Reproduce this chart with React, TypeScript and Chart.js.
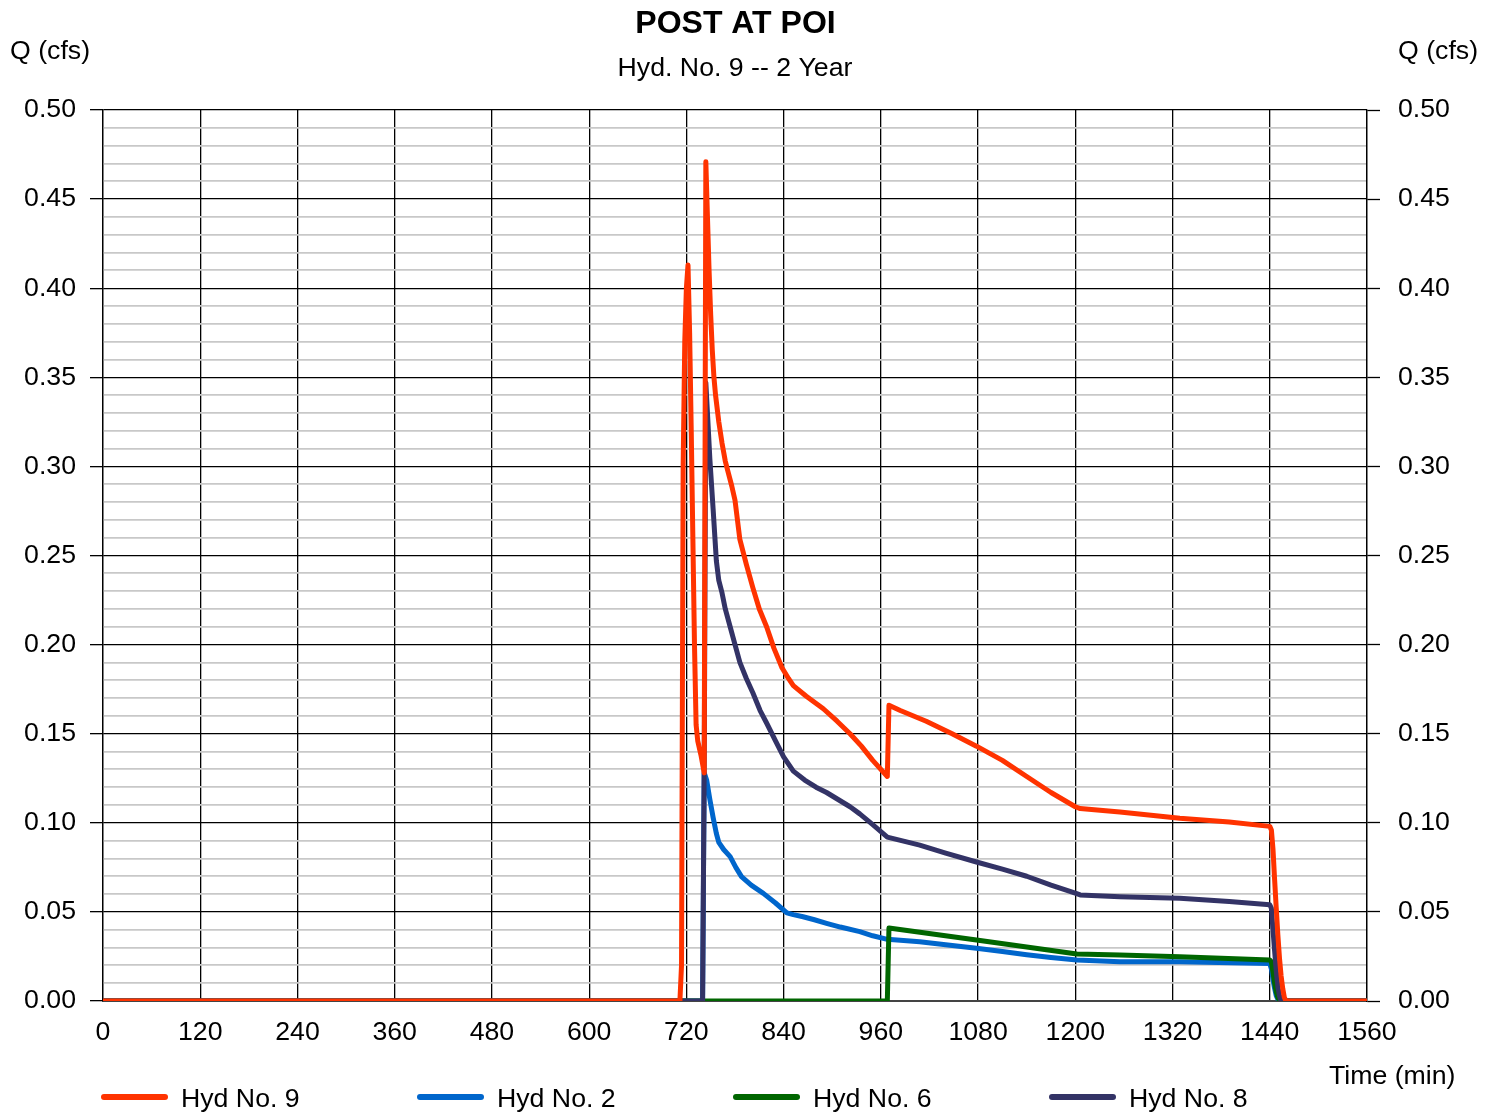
import React, { useEffect, useRef } from 'react';
import { Chart, registerables } from 'chart.js';

Chart.register(...registerables);

// ---- Data (time in minutes, flow in cfs) ----
const seriesLabels = ['Hyd No. 9', 'Hyd No. 2', 'Hyd No. 6', 'Hyd No. 8'];

const hyd9Times = [0, 712, 714, 716, 718, 720, 722, 724, 726, 728, 730, 732, 734, 738, 742, 744, 746, 748, 750, 752, 754, 756, 760, 764, 768, 772, 776, 780, 786, 794, 802, 810, 819, 828, 838, 846, 852, 868, 889, 906, 922, 936, 950, 968, 970, 984, 1016, 1048, 1078, 1110, 1140, 1170, 1200, 1206, 1255, 1329, 1390, 1440, 1442, 1444, 1446, 1448, 1450, 1452, 1454, 1456, 1458, 1460, 1560];
const hyd9Flow = [0, 0, 0.02, 0.3, 0.37, 0.4, 0.413, 0.375, 0.32, 0.26, 0.2, 0.155, 0.146, 0.138, 0.128, 0.471, 0.44, 0.41, 0.385, 0.365, 0.35, 0.34, 0.325, 0.313, 0.303, 0.296, 0.289, 0.281, 0.259, 0.245, 0.232, 0.22, 0.21, 0.198, 0.187, 0.181, 0.177, 0.171, 0.164, 0.157, 0.15, 0.143, 0.135, 0.126, 0.166, 0.163, 0.157, 0.15, 0.143, 0.135, 0.126, 0.117, 0.109, 0.108, 0.106, 0.1025, 0.1005, 0.098, 0.096, 0.085, 0.068, 0.052, 0.037, 0.024, 0.014, 0.007, 0.002, 0, 0];

const hyd2Times = [0, 740, 742, 745, 749, 753, 757, 760, 766, 774, 781, 788, 800, 815, 830, 844, 852, 864, 878, 893, 910, 934, 950, 968, 1008, 1040, 1078, 1110, 1140, 1170, 1202, 1255, 1329, 1440, 1442, 1444, 1446, 1448, 1450, 1452, 1560];
const hyd2Flow = [0, 0, 0.128, 0.124, 0.113, 0.103, 0.094, 0.089, 0.085, 0.081, 0.075, 0.0698, 0.065, 0.0604, 0.055, 0.0495, 0.0485, 0.0473, 0.0456, 0.0436, 0.0415, 0.0389, 0.0366, 0.0346, 0.0333, 0.0316, 0.0296, 0.0278, 0.026, 0.0244, 0.023, 0.022, 0.022, 0.021, 0.018, 0.012, 0.007, 0.003, 0.001, 0, 0];

const hyd6Times = [0, 968, 970, 1078, 1202, 1255, 1329, 1440, 1442, 1444, 1446, 1448, 1450, 1452, 1560];
const hyd6Flow = [0, 0, 0.041, 0.0342, 0.0264, 0.0258, 0.0249, 0.023, 0.022, 0.016, 0.01, 0.005, 0.002, 0, 0];

const hyd8Times = [0, 740, 742, 744, 746, 749, 753, 757, 760, 764, 768, 774, 780, 786, 794, 802, 811, 819, 830, 840, 852, 866, 880, 893, 922, 934, 950, 968, 1008, 1040, 1078, 1110, 1140, 1170, 1200, 1206, 1255, 1329, 1390, 1440, 1442, 1444, 1446, 1448, 1450, 1452, 1454, 1560];
const hyd8Flow = [0, 0, 0.13, 0.347, 0.33, 0.304, 0.276, 0.247, 0.236, 0.229, 0.22, 0.21, 0.2, 0.19, 0.181, 0.173, 0.163, 0.156, 0.146, 0.137, 0.129, 0.124, 0.12, 0.117, 0.109, 0.105, 0.099, 0.092, 0.0875, 0.083, 0.078, 0.074, 0.07, 0.065, 0.0605, 0.0595, 0.0585, 0.0576, 0.0558, 0.054, 0.052, 0.04, 0.028, 0.017, 0.008, 0.003, 0, 0];

const seriesColors = ['#FF3300', '#0066CC', '#006600', '#333366'];

const FONT = '"Liberation Sans", Arial, Helvetica, sans-serif';
const FS = 26.7;

const toPoints = (t: number[], q: number[]) => t.map((x, i) => ({ x, y: q[i] }));
const isMajor = (v: number) => Math.round(v * 100) % 5 === 0;

export default function App() {
  const ref = useRef<HTMLCanvasElement | null>(null);

  useEffect(() => {
    document.body.style.margin = '0';
    const canvas = ref.current;
    if (!canvas) return;

    const textPlugin = {
      id: 'customTexts',
      afterDraw(chart: any) {
        const c = chart.ctx as CanvasRenderingContext2D;
        c.save();
        c.fillStyle = '#000';
        c.textBaseline = 'alphabetic';
        c.font = `bold 32px ${FONT}`;
        c.textAlign = 'center';
        c.fillText('POST AT POI', 735.5, 33);
        c.font = `${FS}px ${FONT}`;
        c.fillText('Hyd. No. 9 -- 2 Year', 735, 76);
        c.textAlign = 'left';
        c.fillText('Q (cfs)', 10, 59);
        c.fillText('Q (cfs)', 1398, 59);
        c.fillText('Time (min)', 1329, 1084);
        const legendX = [101, 417, 733, 1049];
        chart.data.datasets.forEach((ds: any, i: number) => {
          const lx = legendX[i];
          c.strokeStyle = ds.borderColor;
          c.lineWidth = 6;
          c.lineCap = 'round';
          c.beginPath();
          c.moveTo(lx + 3, 1097);
          c.lineTo(lx + 64, 1097);
          c.stroke();
          c.fillStyle = '#000';
          c.fillText(ds.label, lx + 80, 1107);
        });
        c.restore();
      },
    };

    const yTicks = {
      stepSize: 0.01,
      autoSkip: false,
      maxTicksLimit: 100,
      color: '#000',
      font: { family: FONT, size: FS },
      callback: (v: any) => (isMajor(Number(v)) ? Number(v).toFixed(2) : ''),
    };
    const majorColor = (ctx: any) => (ctx.tick && !isMajor(ctx.tick.value) ? '#c8c8c8' : '#000');
    const majorWidth = (ctx: any) => (ctx.tick && !isMajor(ctx.tick.value) ? 1.8 : 1.3);
    const tickColor = (ctx: any) => (ctx.tick && !isMajor(ctx.tick.value) ? 'rgba(0,0,0,0)' : '#000');

    const chart = new Chart(canvas, {
      type: 'line',
      data: {
        datasets: [
          { label: seriesLabels[0], data: toPoints(hyd9Times, hyd9Flow), borderColor: seriesColors[0], order: 0 },
          { label: seriesLabels[1], data: toPoints(hyd2Times, hyd2Flow), borderColor: seriesColors[1], order: 3 },
          { label: seriesLabels[2], data: toPoints(hyd6Times, hyd6Flow), borderColor: seriesColors[2], order: 2 },
          { label: seriesLabels[3], data: toPoints(hyd8Times, hyd8Flow), borderColor: seriesColors[3], order: 1 },
        ].map((d) => ({
          ...d,
          borderWidth: 5,
          pointRadius: 0,
          fill: false,
          tension: 0,
          borderCapStyle: 'round' as const,
          borderJoinStyle: 'round' as const,
        })),
      },
      options: {
        responsive: false,
        animation: false,
        devicePixelRatio: 1,
        layout: { padding: { top: 110, left: 0, right: 0, bottom: 0 } },
        plugins: {
          legend: { display: false },
          title: { display: false },
          tooltip: { enabled: false },
        },
        scales: {
          x: {
            type: 'linear',
            min: 0,
            max: 1560,
            afterFit: (s: any) => {
              s.height = 111;
            },
            ticks: {
              stepSize: 120,
              autoSkip: false,
              maxTicksLimit: 100,
              maxRotation: 0,
              padding: 16,
              color: '#000',
              font: { family: FONT, size: FS },
              callback: (v: any) => String(v),
            },
            grid: { color: '#000', lineWidth: 1.3, drawTicks: false },
            border: { color: '#444', width: 2 },
          },
          y: {
            type: 'linear',
            position: 'left',
            min: 0,
            max: 0.5,
            afterFit: (s: any) => {
              s.width = 103;
            },
            ticks: { ...yTicks, padding: 14 },
            grid: { color: majorColor, lineWidth: majorWidth, tickColor, tickWidth: 1.3, tickLength: 13, drawTicks: true },
            border: { color: '#000', width: 1.3 },
          },
          y2: {
            type: 'linear',
            position: 'right',
            min: 0,
            max: 0.5,
            afterFit: (s: any) => {
              s.width = 130;
            },
            ticks: { ...yTicks, padding: 18 },
            grid: { drawOnChartArea: false, tickColor, tickWidth: 1.3, tickLength: 13, drawTicks: true },
            border: { color: '#000', width: 1.3 },
          },
        },
      },
      plugins: [textPlugin],
    } as any);

    return () => chart.destroy();
  }, []);

  return (
    <div style={{ width: 1497, height: 1112 }}>
      <canvas ref={ref} width={1497} height={1112} style={{ display: 'block' }} />
    </div>
  );
}
